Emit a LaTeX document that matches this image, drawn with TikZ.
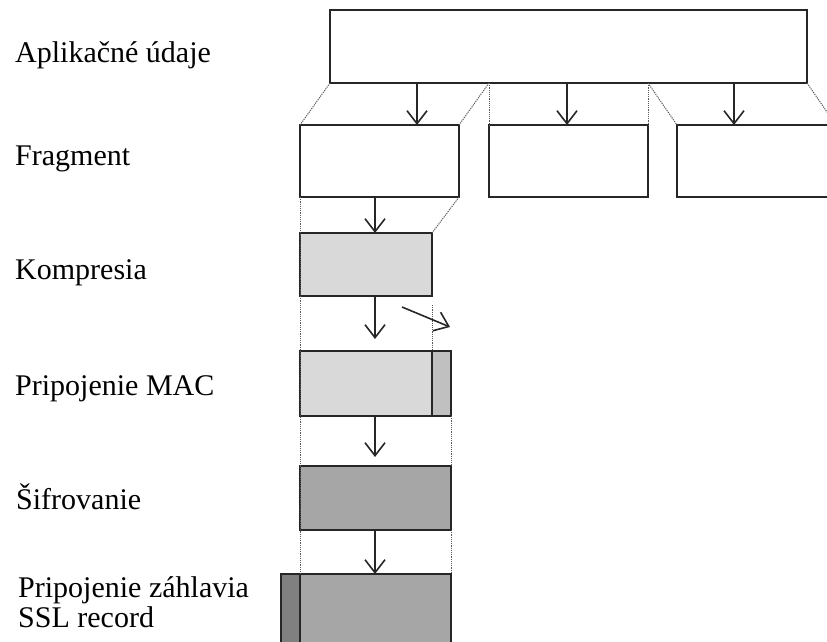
\documentclass[tikz,border=0pt]{standalone}
\usepackage{fontspec}
\setmainfont{Liberation Serif}
\usetikzlibrary{arrows.meta}
\definecolor{compfill}{HTML}{D9D9D9}
\definecolor{tagfill}{HTML}{C0C0C0}
\definecolor{encfill}{HTML}{A6A6A6}
\definecolor{hdrfill}{HTML}{808080}
\begin{document}
\begin{tikzpicture}[x=1pt,y=-1pt,
  box/.style={draw=black!85, line width=1.6pt, rectangle, inner sep=0pt, outer sep=0pt, anchor=north west},
  guide/.style={draw=black!65, line width=1pt, dash pattern=on 1.2pt off 1pt},
  arr/.style={draw=black!85, line width=1.6pt, -{Straight Barb[length=13pt,width=20pt,line width=1.6pt]}},
  lbl/.style={anchor=base west, inner sep=0pt, font=\fontsize{30}{30}\selectfont}]
\useasboundingbox (0,0) rectangle (827,642);
\clip (0,0) rectangle (827,642);

% row labels
\node[lbl] (lapp)  at (15,63)  {Aplikačné údaje};
\node[lbl] (lfrag) at (15,165) {Fragment};
\node[lbl] (lcomp) at (15,279) {Kompresia};
\node[lbl] (lmac)  at (15,395) {Pripojenie MAC};
\node[lbl] (lenc)  at (16,509) {Šifrovanie};
\node[lbl] (lhdr)  at (18,597) {Pripojenie záhlavia};
\node[lbl] (lssl)  at (18,627) {SSL record};

% data blocks
\node[box, minimum width=477pt, minimum height=73pt] (app) at (330,10) {};
\node[box, minimum width=159pt, minimum height=72pt] (frag1) at (300,125) {};
\node[box, minimum width=159pt, minimum height=72pt] (frag2) at (489,125) {};
\node[box, minimum width=159pt, minimum height=72pt] (frag3) at (677,125) {};
\node[box, fill=compfill, minimum width=132pt, minimum height=63pt] (comp) at (300,233) {};
\node[box, fill=compfill, minimum width=132pt, minimum height=65pt] (macdata) at (300,351) {};
\node[box, fill=tagfill, minimum width=19pt, minimum height=65pt] (mactag) at (432,351) {};
\node[box, fill=encfill, minimum width=151pt, minimum height=64pt] (enc) at (300,466) {};
\node[box, fill=hdrfill, minimum width=19pt, minimum height=90pt] (hdr) at (281,574) {};
\node[box, fill=encfill, minimum width=151pt, minimum height=90pt] (rec) at (300,574) {};

% dotted guide lines
\draw[guide] (app.south west) -- (frag1.north west);
\draw[guide] (app.south -| frag2.north west) -- (frag1.north east);
\draw[guide] (app.south -| frag2.north west) -- (frag2.north west);
\draw[guide] (app.south -| frag2.north east) -- (frag2.north east);
\draw[guide] (app.south -| frag2.north east) -- (frag3.north west);
\draw[guide] (app.south east) -- (frag3.north east);
\draw[guide] (frag1.south west) -- (hdr.north east);
\draw[guide] (frag1.south east) -- (comp.north east);
\coordinate (tagtop) at (432,305);
\draw[guide] (tagtop) -- (mactag.north west);
\draw[guide] (mactag.south east) -- (enc.north east);
\draw[guide] (enc.south east) -- (rec.north east);

% processing arrows
\coordinate (c1) at (417,0);
\coordinate (c2) at (567,0);
\coordinate (c3) at (734,0);
\coordinate (cm) at (375,0);
\draw[arr] (app.south -| c1) -- (frag1.north -| c1);
\draw[arr] (app.south -| c2) -- (frag2.north -| c2);
\draw[arr] (app.south -| c3) -- (frag3.north -| c3);
\draw[arr] (frag1.south -| cm) -- (comp.north -| cm);
\coordinate (t1) at (375,339);
\draw[arr] (comp.south -| cm) -- (t1);
\coordinate (t2) at (375,457);
\draw[arr] (macdata.south -| cm) -- (t2);
\draw[arr] (enc.south -| cm) -- (rec.north -| cm);
\coordinate (s1) at (402,307);
\coordinate (s2) at (450,327);
\draw[arr] (s1) -- (s2);
\end{tikzpicture}
\end{document}
